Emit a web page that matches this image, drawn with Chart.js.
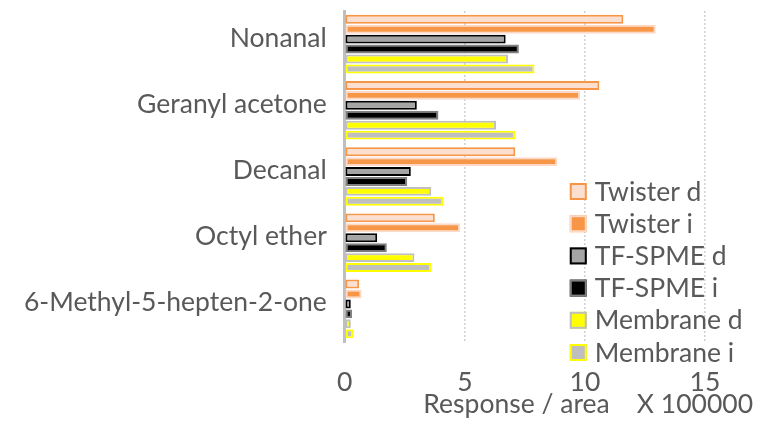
<!DOCTYPE html>
<html>
<head>
<meta charset="utf-8">
<script src="https://cdn.jsdelivr.net/npm/chart.js@4/dist/chart.umd.min.js"></script>
<style>
  html, body { margin: 0; padding: 0; background: #fff; }
  #wrap { width: 772px; height: 430px; }
</style>
</head>
<body>
<div id="wrap"><canvas id="myChart" width="772" height="430"></canvas></div>
<script>
const compounds = ['Nonanal', 'Geranyl acetone', 'Decanal', 'Octyl ether', '6-Methyl-5-hepten-2-one']
// values in units of 100000
const twisterD = [11.6, 10.6, 7.1, 3.75, 0.6]
const twisterI = [12.95, 9.8, 8.85, 4.8, 0.7]
const tfspmeD = [6.7, 3.0, 2.75, 1.35, 0.25]
const tfspmeI = [7.25, 3.9, 2.6, 1.75, 0.3]
const membraneD = [6.8, 6.3, 3.6, 2.9, 0.25]
const membraneI = [7.9, 7.1, 4.1, 3.6, 0.35]
const xTicks = [0, 5, 10, 15]

const font = 'Lato, Calibri, "Open Sans", sans-serif'
const textColor = '#595959'
const fontSize = 26.5

function series(label, data, fill, border) {
  return {
    label: label,
    data: data,
    backgroundColor: fill,
    borderColor: border,
    borderWidth: 2,
    borderSkipped: false,
    categoryPercentage: 0.9,
    barPercentage: 0.9,
  }
}

// legend drawn inside the plot, lower right, like the original
const insideLegend = {
  id: 'insideLegend',
  afterDraw(chart) {
    const ctx = chart.ctx
    const area = chart.chartArea
    const x = area.left + 225
    let y = area.top + 180
    ctx.save()
    ctx.font = fontSize + 'px ' + font
    ctx.textBaseline = 'middle'
    chart.data.datasets.forEach(function (ds) {
      ctx.fillStyle = ds.backgroundColor
      ctx.fillRect(x, y - 8, 17, 17)
      ctx.strokeStyle = ds.borderColor
      ctx.lineWidth = 2
      ctx.strokeRect(x + 1, y - 7, 15, 15)
      ctx.fillStyle = textColor
      ctx.fillText(ds.label, x + 25, y + 1)
      y += 32.2
    })
    ctx.restore()
  },
}

const config = {
  type: 'bar',
  data: {
    labels: compounds,
    datasets: [
      series('Twister d', twisterD, '#fbe0d2', '#f79646'),
      series('Twister i', twisterI, '#f79646', '#fcd9c6'),
      series('TF-SPME d', tfspmeD, '#a5a5a5', '#000000'),
      series('TF-SPME i', tfspmeI, '#000000', '#7f7f7f'),
      series('Membrane d', membraneD, '#ffff00', '#bfbfbf'),
      series('Membrane i', membraneI, '#bfbfbf', '#ffff00'),
    ],
  },
  options: {
    indexAxis: 'y',
    responsive: false,
    animation: false,
    layout: { padding: { top: 11, right: 19, left: 6, bottom: 10 } },
    plugins: {
      legend: { display: false },
      tooltip: { enabled: false },
    },
    scales: {
      x: {
        min: 0,
        max: 17,
        afterBuildTicks: function (scale) {
          scale.ticks = xTicks.map((v) => ({ value: v }))
        },
        afterFit: function (scale) {
          scale.height = 78
        },
        grid: {
          color: (c) => (c.tick && c.tick.value === 0 ? 'rgba(0,0,0,0)' : '#d0d0d0'),
          lineWidth: 1.5,
          drawTicks: false,
        },
        border: { display: false, dash: [2, 2] },
        ticks: {
          color: textColor,
          font: { family: font, size: fontSize },
          padding: 25,
          maxRotation: 0,
        },
        title: {
          display: true,
          text: 'Response / area    X 100000',
          align: 'end',
          color: textColor,
          font: { family: font, size: fontSize },
          padding: { top: 0, bottom: 0 },
        },
      },
      y: {
        afterFit: function (scale) {
          scale.paddingTop = 0
          scale.paddingBottom = 0
        },
        grid: { display: false, drawTicks: false },
        border: { display: true, color: '#bfbfbf', width: 3 },
        ticks: {
          color: textColor,
          font: { family: font, size: fontSize },
          padding: 18,
          labelOffset: -6,
        },
      },
    },
  },
  plugins: [insideLegend],
}

const myChart = new Chart(document.getElementById('myChart'), config)
</script>
</body>
</html>
